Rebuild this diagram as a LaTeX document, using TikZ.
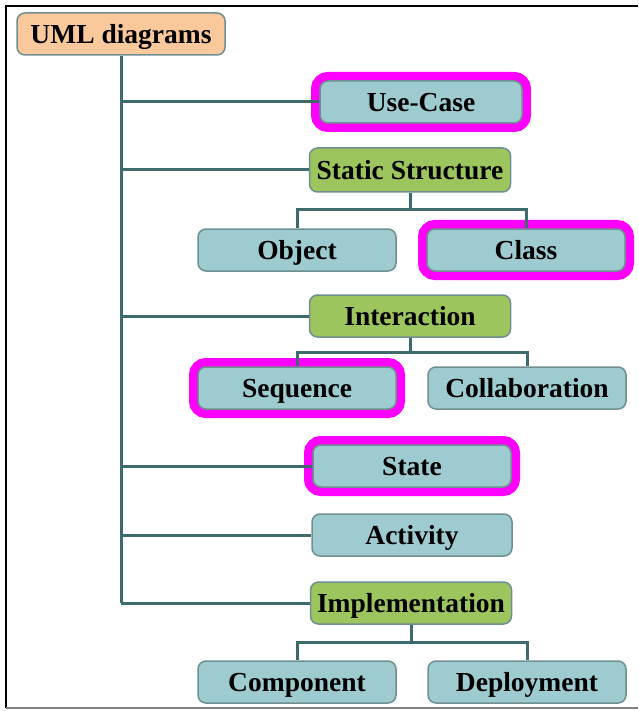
\documentclass[tikz,border=0pt]{standalone}
\usepackage{fontspec}
\setmainfont{Liberation Serif}
\usepackage{tikz}

\definecolor{rootfill}{HTML}{F9C99C}
\definecolor{leaffill}{HTML}{9DCBCF}
\definecolor{groupfill}{HTML}{9CC55E}
\definecolor{linkcol}{HTML}{3E6B6E}
\definecolor{edgecol}{HTML}{6F8F90}
\definecolor{markcol}{HTML}{FF00FF}

\begin{document}
\begin{tikzpicture}[x=1pt, y=-1pt,
	every node/.style={rounded corners=8pt, draw=edgecol, line width=1.5pt, inner sep=0pt, text height=22pt, text depth=3pt, font=\fontsize{27.5}{30}\selectfont\bfseries},
	every path/.style={draw=linkcol, line width=3pt},
	root/.style={fill=rootfill, minimum width=208pt, minimum height=42pt},
	leaf/.style={fill=leaffill, minimum width=198pt, minimum height=42pt},
	group/.style={fill=groupfill, minimum width=201pt, minimum height=42pt},
	marked/.style={preaction={draw=markcol, line width=18pt}}]
				\useasboundingbox[draw=none] (0,0) rectangle (638,711);
				\draw[draw=black, line width=2.5pt] (638,6) -- (6,6) -- (6,708);
				\draw[draw=gray, line width=2pt] (6,708) -- (638,708);
				
				\node[root] (uml) at (121,34){UML diagrams};
				\node[leaf, marked, minimum width=202pt] (usecase) at (421,102){Use-Case};
				\node[group, minimum height=44pt] (static) at (410,170){Static Structure};
				\node[leaf] (object) at (297,250){Object};
				\node[leaf, marked] (class) at (526,250){Class};
				\node[group] (interaction) at (410,316){Interaction};
				\node[leaf, marked] (sequence) at (297,388){Sequence};
				\node[leaf] (collab) at (527,388){Collaboration};
				\node[leaf, marked] (state) at (412,466){State};
				\node[leaf, minimum width=200pt] (activity) at (412,535){Activity};
				\node[group] (impl) at (411,603){Implementation};
				\node[leaf] (component) at (297,682){Component};
				\node[leaf] (deploy) at (527,682){Deployment};
				
				\coordinate (t1) at (121,102);
				\coordinate (t2) at (121,170);
				\coordinate (t3) at (121,316);
				\coordinate (t4) at (121,466);
				\coordinate (t5) at (121,535);
				\coordinate (t6) at (121,603);
				\coordinate (s1) at (410,210);
				\coordinate (s2) at (410,352);
				\coordinate (s3) at (411,642);
				
				\path (uml) edge (t6);
				\path (t1) edge (usecase);
				\path (t2) edge (static);
				\path (t3) edge (interaction);
				\path (t4) edge (state);
				\path (t5) edge (activity);
				\path (t6) edge (impl);
				\path (static) edge (s1);
				\draw (s1) -| (object);
				\draw (s1) -| (class);
				\path (interaction) edge (s2);
				\draw (s2) -| (sequence);
				\draw (s2) -| (collab);
				\path (impl) edge (s3);
				\draw (s3) -| (component);
				\draw (s3) -| (deploy);
				\end{tikzpicture}
\end{document}
